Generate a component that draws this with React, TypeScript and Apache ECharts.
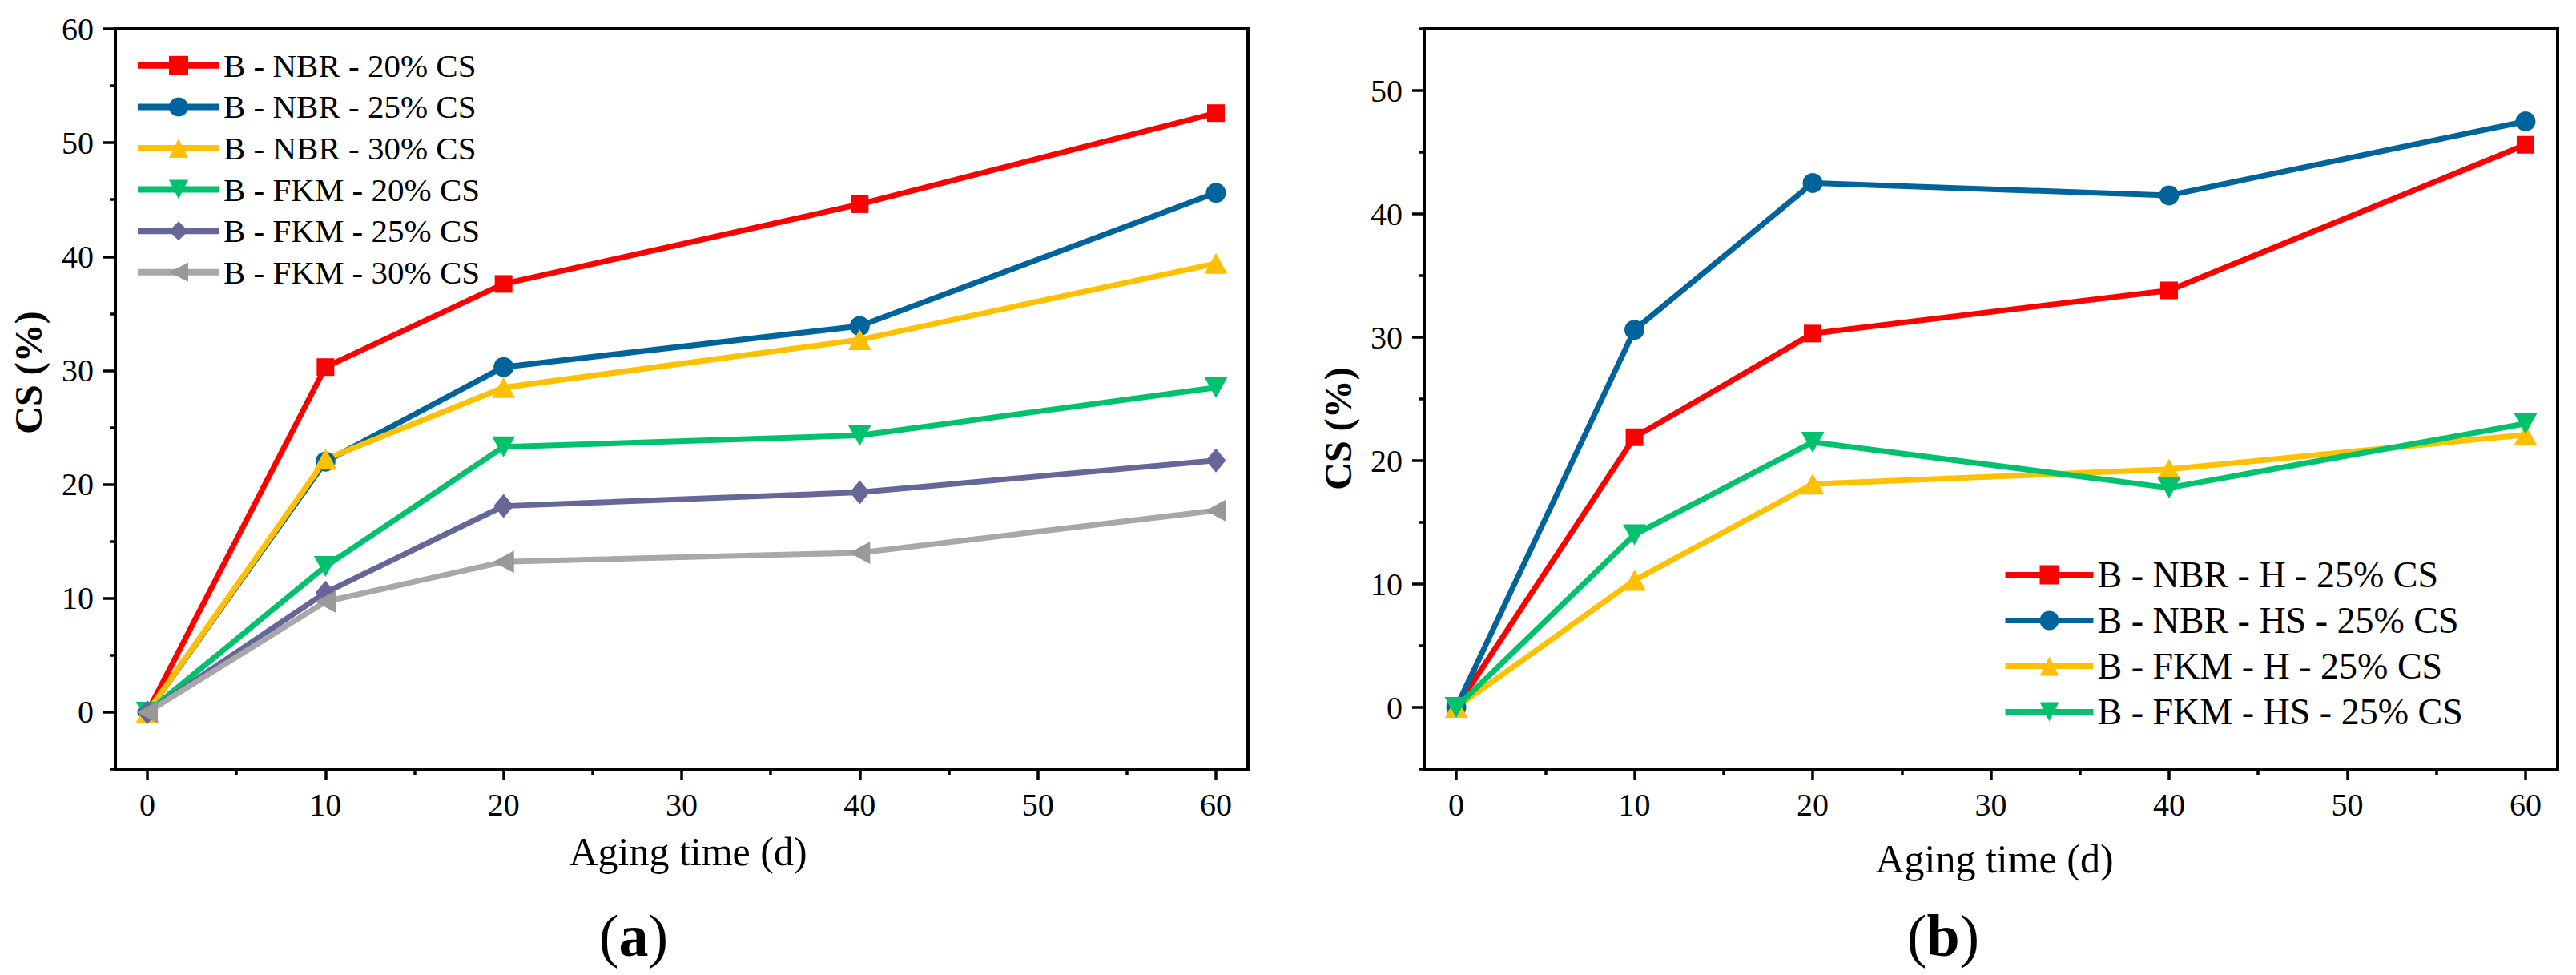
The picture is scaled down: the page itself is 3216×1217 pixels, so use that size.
import React, { useEffect, useRef } from "react";
import * as echarts from "echarts";

const FONT = "'Liberation Serif', 'Times New Roman', serif";

// x values (aging time, days)
const TIMES = [0, 10, 20, 40, 60];
const X_MAJOR = [0, 10, 20, 30, 40, 50, 60];
const X_MINOR = [5, 15, 25, 35, 45, 55];

// panel (a)
const A_NAMES = [
  "B - NBR - 20% CS",
  "B - NBR - 25% CS",
  "B - NBR - 30% CS",
  "B - FKM - 20% CS",
  "B - FKM - 25% CS",
  "B - FKM - 30% CS",
];
const A_NBR20 = [0, 30.3, 37.6, 44.6, 52.6];
const A_NBR25 = [0, 22.0, 30.3, 33.9, 45.6];
const A_NBR30 = [0, 22.2, 28.5, 32.7, 39.4];
const A_FKM20 = [0, 12.8, 23.3, 24.3, 28.5];
const A_FKM25 = [0, 10.5, 18.1, 19.3, 22.1];
const A_FKM30 = [0, 9.7, 13.2, 14.0, 17.7];
const A_Y_MAJOR = [0, 10, 20, 30, 40, 50, 60];
const A_Y_MINOR = [-5, 5, 15, 25, 35, 45, 55];

// panel (b)
const B_NAMES = [
  "B - NBR - H - 25% CS",
  "B - NBR - HS - 25% CS",
  "B - FKM - H - 25% CS",
  "B - FKM - HS - 25% CS",
];
const B_NBR_H = [0, 21.9, 30.3, 33.8, 45.6];
const B_NBR_HS = [0, 30.6, 42.5, 41.5, 47.5];
const B_FKM_H = [0, 10.3, 18.1, 19.3, 22.1];
const B_FKM_HS = [0, 14.0, 21.5, 17.8, 23.0];
const B_Y_MAJOR = [0, 10, 20, 30, 40, 50];
const B_Y_MINOR = [-5, 5, 15, 25, 35, 45, 55];

const RED = "#FF0000";
const BLUE = "#00649C";
const YELLOW = "#FFC000";
const GREEN = "#00C26C";
const PURPLE = "#666699";
const GRAY_LINE = "#A8A8A8";
const GRAY_MARK = "#999999";

const SQUARE = { symbol: "rect", symbolSize: 22, symbolRotate: 0 };
const CIRCLE = { symbol: "circle", symbolSize: 25, symbolRotate: 0 };
const UP = { symbol: "triangle", symbolSize: [29, 26], symbolRotate: 0 };
const DOWN = { symbol: "triangle", symbolSize: [29, 26], symbolRotate: 180 };
const DIAMOND = { symbol: "diamond", symbolSize: [25, 30], symbolRotate: 0 };
const LEFT = { symbol: "triangle", symbolSize: [28, 26], symbolRotate: 90 };

function pairs(ys: number[]) {
  return TIMES.map((x, i) => [x, ys[i]]);
}

function lineSeries(
  name: string,
  ys: number[],
  color: string,
  marker: any,
  axisIdx: number,
  markColor?: string
) {
  return {
    type: "line",
    name,
    data: pairs(ys),
    xAxisIndex: axisIdx,
    yAxisIndex: axisIdx,
    ...marker,
    showAllSymbol: true,
    lineStyle: { color, width: 7 },
    itemStyle: { color: markColor || color, borderWidth: 0 },
    emphasis: { disabled: true },
    clip: false,
  };
}

function xAxes(gridIndex: number) {
  return [
    {
      type: "value",
      gridIndex,
      position: "bottom",
      min: -1.8,
      max: 61.8,
      axisLine: { show: true, onZero: false, lineStyle: { color: "#000", width: 4 } },
      axisTick: { show: true, customValues: X_MAJOR, length: 14, lineStyle: { color: "#000", width: 3.5 } },
      axisLabel: { customValues: X_MAJOR, margin: 24, fontSize: 40, color: "#000", fontFamily: FONT },
      splitLine: { show: false },
    },
    {
      type: "value",
      gridIndex,
      position: "bottom",
      min: -1.8,
      max: 61.8,
      axisLine: { show: false, onZero: false },
      axisTick: { show: true, customValues: X_MINOR, length: 7, lineStyle: { color: "#000", width: 3.5 } },
      axisLabel: { show: false },
      splitLine: { show: false },
    },
  ];
}

function yAxes(gridIndex: number, min: number, max: number, major: number[], minor: number[]) {
  return [
    {
      type: "value",
      gridIndex,
      position: "left",
      min,
      max,
      axisLine: { show: true, onZero: false, lineStyle: { color: "#000", width: 4 } },
      axisTick: { show: true, customValues: major, length: 15, lineStyle: { color: "#000", width: 3.5 } },
      axisLabel: { customValues: major, margin: 27, fontSize: 40, color: "#000", fontFamily: FONT },
      splitLine: { show: false },
    },
    {
      type: "value",
      gridIndex,
      position: "left",
      min,
      max,
      axisLine: { show: false, onZero: false },
      axisTick: { show: true, customValues: minor, length: 7, lineStyle: { color: "#000", width: 3.5 } },
      axisLabel: { show: false },
      splitLine: { show: false },
    },
  ];
}

export default function App() {
  const ref = useRef<HTMLDivElement>(null);

  useEffect(() => {
    if (!ref.current) return;
    const chart = echarts.init(ref.current, null, { renderer: "svg" });
    const option: any = {
      animation: false,
      backgroundColor: "#fff",
      textStyle: { fontFamily: FONT },
      grid: [
        { left: 144, top: 36, width: 1414, height: 924, show: true, borderColor: "#000", borderWidth: 4, containLabel: false },
        { left: 1778, top: 36, width: 1415, height: 924, show: true, borderColor: "#000", borderWidth: 4, containLabel: false },
      ],
      xAxis: [...xAxes(0), ...xAxes(1)],
      yAxis: [
        ...yAxes(0, -5, 60, A_Y_MAJOR, A_Y_MINOR),
        ...yAxes(1, -5, 55, B_Y_MAJOR, B_Y_MINOR),
      ],
      legend: [
        {
          data: A_NAMES,
          orient: "vertical",
          left: 163,
          top: 51,
          itemWidth: 102,
          itemHeight: 30,
          itemGap: 0,
          selectedMode: false,
          lineStyle: { width: 8 },
          textStyle: { fontSize: 41, lineHeight: 51.6, color: "#000", fontFamily: FONT },
        },
        {
          data: B_NAMES,
          orient: "vertical",
          left: 2495,
          top: 684,
          itemWidth: 110,
          itemHeight: 30,
          itemGap: 0,
          selectedMode: false,
          lineStyle: { width: 7 },
          textStyle: { fontSize: 46, lineHeight: 57, color: "#000", fontFamily: FONT },
        },
      ],
      series: [
        lineSeries(A_NAMES[0], A_NBR20, RED, SQUARE, 0),
        lineSeries(A_NAMES[1], A_NBR25, BLUE, CIRCLE, 0),
        lineSeries(A_NAMES[2], A_NBR30, YELLOW, UP, 0),
        lineSeries(A_NAMES[3], A_FKM20, GREEN, DOWN, 0),
        lineSeries(A_NAMES[4], A_FKM25, PURPLE, DIAMOND, 0),
        lineSeries(A_NAMES[5], A_FKM30, GRAY_LINE, LEFT, 0, GRAY_MARK),
        lineSeries(B_NAMES[0], B_NBR_H, RED, SQUARE, 2),
        lineSeries(B_NAMES[1], B_NBR_HS, BLUE, CIRCLE, 2),
        lineSeries(B_NAMES[2], B_FKM_H, YELLOW, UP, 2),
        lineSeries(B_NAMES[3], B_FKM_HS, GREEN, DOWN, 2),
      ],
      graphic: [
        {
          type: "text",
          x: 35,
          y: 465,
          rotation: Math.PI / 2,
          style: { text: "CS (%)", fill: "#000", fontSize: 48, fontWeight: "bold", fontFamily: FONT, align: "center", verticalAlign: "middle" },
        },
        {
          type: "text",
          x: 1670,
          y: 535,
          rotation: Math.PI / 2,
          style: { text: "CS (%)", fill: "#000", fontSize: 48, fontWeight: "bold", fontFamily: FONT, align: "center", verticalAlign: "middle" },
        },
        {
          type: "text",
          x: 859,
          y: 1063,
          style: { text: "Aging time (d)", fill: "#000", fontSize: 50, fontFamily: FONT, align: "center", verticalAlign: "middle" },
        },
        {
          type: "text",
          x: 2490,
          y: 1072,
          style: { text: "Aging time (d)", fill: "#000", fontSize: 50, fontFamily: FONT, align: "center", verticalAlign: "middle" },
        },
        {
          type: "text",
          x: 791,
          y: 1168,
          style: {
            text: "{p|(}{b|a}{p|)}",
            align: "center",
            verticalAlign: "middle",
            rich: {
              p: { fontSize: 74, fontFamily: FONT, fill: "#000" },
              b: { fontSize: 74, fontFamily: FONT, fontWeight: "bold", fill: "#000" },
            },
          },
        },
        {
          type: "text",
          x: 2426,
          y: 1168,
          style: {
            text: "{p|(}{b|b}{p|)}",
            align: "center",
            verticalAlign: "middle",
            rich: {
              p: { fontSize: 74, fontFamily: FONT, fill: "#000" },
              b: { fontSize: 74, fontFamily: FONT, fontWeight: "bold", fill: "#000" },
            },
          },
        },
      ],
    };
    chart.setOption(option);
    return () => chart.dispose();
  }, []);

  return (
    <div
      ref={ref}
      style={{ position: "fixed", left: 0, top: 0, width: 3216, height: 1217, background: "#fff" }}
    />
  );
}
